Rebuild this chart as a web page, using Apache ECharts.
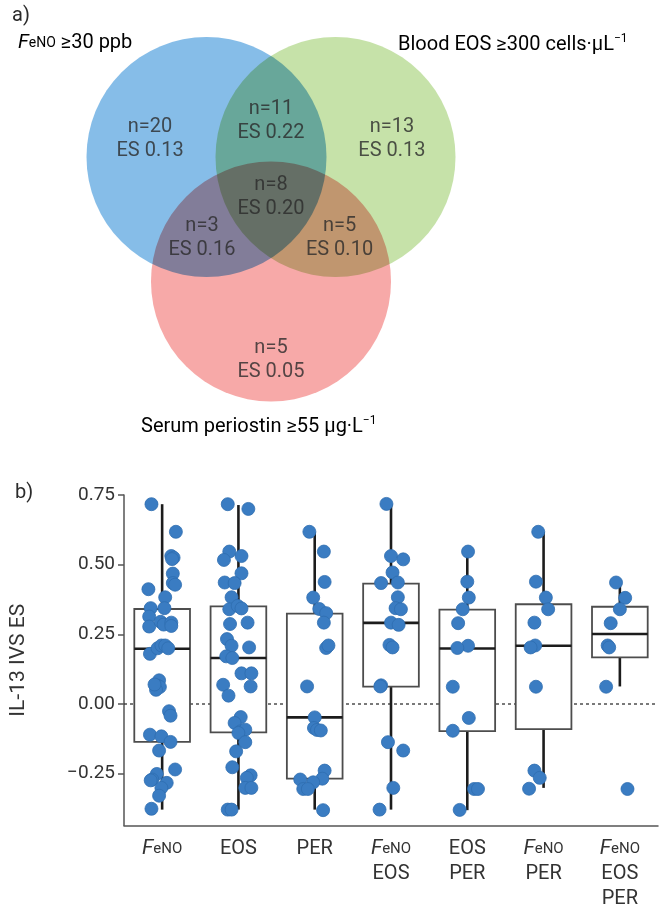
<!DOCTYPE html>
<html>
<head>
<meta charset="utf-8">
<script src="https://cdn.jsdelivr.net/npm/echarts@6/dist/echarts.min.js"></script>
<style>
  html, body { margin: 0; padding: 0; background: #fff; }
  #chart { width: 666px; height: 909px; }
</style>
</head>
<body>
<div id="chart"></div>
<script>
// ---------- Panel a: overlap of the three type-2 markers ----------
const setNames = ['FeNO ≥30 ppb', 'Blood EOS ≥300 cells·µL−1', 'Serum periostin ≥55 µg·L−1'];
const setColors = ['#86bde8', '#c6e2a9', '#f7a9a8'];
// regions: which sets each region belongs to, patient count, effect size
const regionSets = [[0], [0, 1], [1], [0, 1, 2], [0, 2], [1, 2], [2]];
const regionN = [20, 11, 13, 8, 3, 5, 5];
const regionES = ['0.13', '0.22', '0.13', '0.20', '0.16', '0.10', '0.05'];

// ---------- Panel b: IL-13 IVS effect size by biomarker group ----------
const categories = ['FeNO', 'EOS', 'PER', 'FeNO\nEOS', 'EOS\nPER', 'FeNO\nPER', 'FeNO\nEOS\nPER'];
const yTicks = [-0.25, 0, 0.25, 0.5, 0.75];
// [lower whisker, Q1, median, Q3, upper whisker]
const boxStats = [
  [-0.379, -0.136, 0.198, 0.341, 0.717],
  [-0.379, -0.102, 0.165, 0.350, 0.714],
  [-0.379, -0.268, -0.048, 0.324, 0.616],
  [-0.379, 0.062, 0.291, 0.432, 0.717],
  [-0.381, -0.097, 0.199, 0.339, 0.547],
  [-0.301, -0.090, 0.209, 0.358, 0.618],
  [0.063, 0.167, 0.251, 0.349, 0.434]
];
// individual patients: [horizontal jitter, effect size]
const ptsFeNO = [
  [-0.14, 0.717], [0.18, 0.618], [0.12, 0.531], [0.15, 0.525], [0.13, 0.520], [0.14, 0.468],
  [0.14, 0.434], [0.17, 0.428], [-0.18, 0.412], [0.04, 0.383], [-0.15, 0.344], [0.03, 0.344],
  [-0.17, 0.314], [-0.17, 0.278], [-0.02, 0.295], [0.02, 0.285], [0.12, 0.292], [0.12, 0.280],
  [-0.16, 0.180], [-0.06, 0.200], [-0.01, 0.210], [0.04, 0.210], [0.08, 0.200], [-0.04, 0.085],
  [-0.06, 0.066], [-0.03, 0.061], [-0.08, 0.051], [-0.10, 0.070], [0.09, -0.026], [0.11, -0.042],
  [-0.16, -0.110], [-0.01, -0.116], [0.11, -0.136], [-0.04, -0.167], [0.17, -0.235], [-0.07, -0.251],
  [-0.13, -0.271], [-0.15, -0.274], [0.06, -0.283], [-0.01, -0.301], [-0.04, -0.329], [-0.14, -0.376]
];
const ptsEOS = [
  [-0.14, 0.717], [0.13, 0.700], [-0.12, 0.547], [-0.19, 0.517], [0.04, 0.531], [0.04, 0.469],
  [-0.18, 0.436], [-0.05, 0.434], [-0.09, 0.383], [-0.12, 0.340], [-0.01, 0.352], [0.04, 0.343],
  [-0.11, 0.287], [0.12, 0.292], [-0.15, 0.233], [-0.09, 0.209], [0.14, 0.203], [-0.16, 0.171],
  [-0.08, 0.165], [0.04, 0.110], [0.17, 0.110], [-0.20, 0.069], [0.16, 0.063], [-0.13, 0.030],
  [0.03, -0.047], [-0.05, -0.068], [0.03, -0.098], [0.09, -0.092], [0.00, -0.104], [0.09, -0.137],
  [-0.03, -0.170], [-0.08, -0.227], [0.16, -0.256], [0.11, -0.265], [0.09, -0.301], [0.17, -0.301],
  [-0.14, -0.379], [-0.09, -0.379]
];
const ptsPER = [
  [-0.07, 0.618], [0.12, 0.547], [0.13, 0.438], [-0.02, 0.382], [0.06, 0.341], [0.15, 0.326],
  [0.12, 0.292], [0.15, 0.201], [0.18, 0.210], [-0.10, 0.063], [0.00, -0.048], [-0.01, -0.086],
  [0.03, -0.093], [0.08, -0.095], [0.13, -0.239], [0.10, -0.268], [-0.19, -0.271], [-0.02, -0.281],
  [-0.15, -0.305], [-0.09, -0.305], [0.11, -0.381]
];
const ptsFeNOEOS = [
  [-0.06, 0.718], [0.00, 0.531], [0.16, 0.519], [0.02, 0.472], [-0.13, 0.434], [0.09, 0.436],
  [0.09, 0.383], [0.06, 0.344], [0.13, 0.340], [0.00, 0.292], [0.10, 0.284], [-0.02, 0.212],
  [0.02, 0.203], [-0.13, 0.067], [-0.14, 0.063], [-0.04, -0.137], [0.16, -0.167], [0.03, -0.301],
  [-0.15, -0.379]
];
const ptsEOSPER = [
  [0.01, 0.547], [0.00, 0.439], [0.02, 0.382], [-0.06, 0.340], [-0.12, 0.290], [0.01, 0.209],
  [-0.13, 0.201], [-0.19, 0.062], [0.02, -0.050], [-0.19, -0.096], [0.09, -0.305], [0.14, -0.305],
  [-0.10, -0.380]
];
const ptsFeNOPER = [
  [-0.07, 0.618], [-0.10, 0.439], [0.03, 0.382], [0.06, 0.340], [-0.12, 0.292], [-0.11, 0.210],
  [-0.17, 0.203], [-0.10, 0.062], [-0.12, -0.239], [-0.05, -0.265], [-0.19, -0.304]
];
const ptsAll = [
  [-0.05, 0.436], [0.07, 0.381], [0.00, 0.340], [-0.12, 0.290], [-0.16, 0.210], [-0.14, 0.203],
  [-0.18, 0.062], [0.10, -0.305]
];
const groupPoints = [ptsFeNO, ptsEOS, ptsPER, ptsFeNOEOS, ptsEOSPER, ptsFeNOPER, ptsAll];

// ---------- layout ----------
const FONT = 'Roboto, "Noto Sans", sans-serif';
const TEXT = '#2b2b2b';
// circle centres in units of the circle radius
const circleCentres = [[-0.5375, 0], [0.5375, 0], [0, -1.0375]];
// anchor of each region's label, same units
const regionAnchors = [
  [-1.008, 0.146], [0, 0.30], [1.008, 0.146], [0, -0.333],
  [-0.575, -0.675], [0.571, -0.675], [0, -1.69]
];
const boxWidthCat = 0.73;

const supRich = {
  it: { fontStyle: 'italic', fontSize: 20, lineHeight: 24, fontFamily: FONT, color: TEXT },
  sm: { fontSize: 14, lineHeight: 24, verticalAlign: 'middle', fontFamily: FONT, color: TEXT },
  sup: { fontSize: 12, lineHeight: 12, verticalAlign: 'top', fontFamily: FONT, color: TEXT },
  b: { fontSize: 20, lineHeight: 24, fontFamily: FONT, color: TEXT }
};
function richName(name) {
  let s = name.replace('FeNO', '{it|F}{sm|eNO}{b|');
  if (!s.startsWith('{it')) s = '{b|' + s;
  s = s.replace('−1', '}{sup|−1}');
  if (!s.endsWith('}')) s += '}';
  return s;
}

function catLabel(v) {
  return v.split('\n').map(w => w === 'FeNO' ? '{f|F}{s|eNO}' : '{w|' + w + '}').join('\n');
}

const chart = echarts.init(document.getElementById('chart'), null, { renderer: 'canvas' });

const scatterData = [];
groupPoints.forEach((pts, i) => pts.forEach(p => scatterData.push([i + p[0], p[1]])));

const option = {
  backgroundColor: '#fff',
  animation: false,
  textStyle: { fontFamily: FONT },
  grid: [
    { left: 31, top: 37, width: 480, height: 360 },
    { left: 120, top: 495, right: 8, bottom: 83 }
  ],
  xAxis: [
    { gridIndex: 0, type: 'value', min: -2, max: 2, show: false },
    {
      gridIndex: 1, type: 'category', data: categories, boundaryGap: true,
      axisLine: { onZero: false, lineStyle: { color: '#555', width: 1.5 } },
      axisTick: { alignWithLabel: true, length: 7, lineStyle: { color: '#333', width: 2 } },
      axisLabel: {
        interval: 0, margin: 11, formatter: catLabel,
        rich: {
          f: { fontStyle: 'italic', fontSize: 21, lineHeight: 25, color: '#333', fontFamily: FONT },
          s: { fontSize: 15, lineHeight: 25, verticalAlign: 'middle', color: '#333', fontFamily: FONT },
          w: { fontSize: 20, lineHeight: 25, color: '#333', fontFamily: FONT }
        }
      }
    },
    { gridIndex: 1, type: 'value', min: -0.5, max: 6.5, show: false }
  ],
  yAxis: [
    { gridIndex: 0, type: 'value', min: -2, max: 1, show: false },
    {
      gridIndex: 1, type: 'value', min: -0.436, max: 0.75,
      splitLine: { show: false },
      axisLine: { show: true, onZero: false, lineStyle: { color: '#555', width: 1.5 } },
      axisTick: { show: true, customValues: yTicks, length: 6, lineStyle: { color: '#555', width: 1.5 } },
      axisLabel: {
        customValues: yTicks, margin: 9, fontSize: 19, color: '#333', fontFamily: FONT,
        formatter: v => (v < 0 ? '−' : '') + Math.abs(v).toFixed(2)
      },
      name: 'IL-13 IVS ES', nameLocation: 'middle', nameGap: 95,
      nameTextStyle: { fontSize: 21, color: '#333', fontFamily: FONT }
    }
  ],
  graphic: [
    { type: 'text', left: 12, top: 6, style: { text: 'a)', fontSize: 20, fontFamily: FONT, fill: TEXT } },
    { type: 'text', left: 15, top: 483, style: { text: 'b)', fontSize: 20, fontFamily: FONT, fill: TEXT } },
    { type: 'text', left: 18, top: 33, style: { text: richName(setNames[0]), rich: supRich } },
    { type: 'text', left: 398, top: 33, style: { text: richName(setNames[1]), rich: supRich } },
    { type: 'text', left: 141, top: 415, style: { text: richName(setNames[2]), rich: supRich } }
  ],
  series: [
    {
      type: 'custom', coordinateSystem: 'cartesian2d', xAxisIndex: 0, yAxisIndex: 0,
      blendMode: 'multiply', silent: true, z: 1,
      data: circleCentres.map((c, i) => [c[0], c[1], i]),
      renderItem: (params, api) => {
        const p = api.coord([api.value(0), api.value(1)]);
        const r = api.size([1, 0])[0];
        return {
          type: 'circle', shape: { cx: p[0], cy: p[1], r: r },
          style: { fill: setColors[api.value(2)] }
        };
      }
    },
    {
      type: 'scatter', xAxisIndex: 0, yAxisIndex: 0, symbolSize: 0, silent: true, z: 5,
      data: regionAnchors.map((a, i) => ({ value: a, n: regionN[i], es: regionES[i], sets: regionSets[i] })),
      label: {
        show: true, position: 'inside', fontSize: 20, lineHeight: 24, color: TEXT, fontFamily: FONT,
        formatter: p => 'n=' + p.data.n + '\nES ' + p.data.es
      }
    },
    {
      type: 'line', xAxisIndex: 2, yAxisIndex: 1, silent: true, z: 1,
      data: [[-0.5, 0], [6.5, 0]], symbol: 'none',
      lineStyle: { color: '#333', width: 1.3, type: [3, 3] }
    },
    {
      type: 'custom', coordinateSystem: 'cartesian2d', xAxisIndex: 2, yAxisIndex: 1, silent: true, z: 2,
      data: boxStats.map((s, i) => [i].concat(s)),
      renderItem: (params, api) => {
        const x = api.value(0);
        const lo = api.coord([x, api.value(1)]);
        const q1 = api.coord([x, api.value(2)]);
        const md = api.coord([x, api.value(3)]);
        const q3 = api.coord([x, api.value(4)]);
        const hi = api.coord([x, api.value(5)]);
        const hw = api.size([boxWidthCat, 0])[0] / 2;
        const whisker = { stroke: '#1c1c1c', lineWidth: 2.6 };
        return {
          type: 'group',
          children: [
            { type: 'line', shape: { x1: hi[0], y1: hi[1], x2: q3[0], y2: q3[1] }, style: whisker },
            { type: 'line', shape: { x1: q1[0], y1: q1[1], x2: lo[0], y2: lo[1] }, style: whisker },
            { type: 'rect', shape: { x: q3[0] - hw, y: q3[1], width: hw * 2, height: q1[1] - q3[1] },
              style: { fill: '#fff', stroke: '#4d4d4d', lineWidth: 1.8 } },
            { type: 'line', shape: { x1: md[0] - hw, y1: md[1], x2: md[0] + hw, y2: md[1] }, style: whisker }
          ]
        };
      }
    },
    {
      type: 'scatter', xAxisIndex: 2, yAxisIndex: 1, z: 3, silent: true,
      symbol: 'circle', symbolSize: 13,
      itemStyle: { color: '#3a7cc2', borderColor: '#2f6db0', borderWidth: 0.8, opacity: 1 },
      data: scatterData
    }
  ]
};
chart.setOption(option);
</script>
</body>
</html>
